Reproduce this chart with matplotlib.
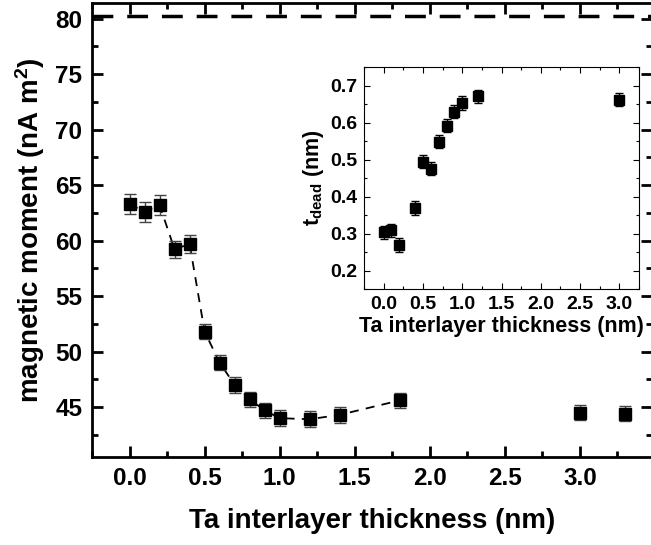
import matplotlib
matplotlib.use("Agg")
import matplotlib.pyplot as plt
from matplotlib.ticker import MultipleLocator

plt.rcParams['font.family'] = ['Liberation Sans', 'DejaVu Sans']
plt.rcParams['font.weight'] = 'bold'
plt.rcParams['mathtext.default'] = 'regular'

# main panel: magnetic moment vs Ta thickness
ta_main = [0.0, 0.1, 0.2, 0.3, 0.4, 0.5, 0.6, 0.7, 0.8, 0.9, 1.0, 1.2, 1.4, 1.8, 3.0, 3.3]
moment = [63.3, 62.6, 63.2, 59.2, 59.7, 51.8, 49.0, 47.0, 45.7, 44.7, 44.0, 43.9, 44.3, 45.6, 44.5, 44.4]
moment_err = [0.9, 0.9, 0.9, 0.8, 0.8, 0.7, 0.7, 0.7, 0.7, 0.7, 0.7, 0.7, 0.7, 0.7, 0.7, 0.7]
n_fit = 14  # dashed guide through the first points only
bulk_moment = 80.2

# inset: dead layer thickness
ta_inset = [0.0, 0.1, 0.2, 0.4, 0.5, 0.6, 0.7, 0.8, 0.9, 1.0, 1.2, 3.0]
t_dead = [0.303, 0.309, 0.269, 0.369, 0.494, 0.475, 0.548, 0.591, 0.629, 0.653, 0.671, 0.662]
t_dead_err = [0.018] * len(t_dead)

fig = plt.figure(figsize=(6.51, 5.45), dpi=100)
ax = fig.add_axes([92/651, 1 - 457/545, 560/651, 454/545])

ax.errorbar(ta_main, moment, yerr=moment_err, fmt='s', color='black', ms=9,
            ecolor='#444444', elinewidth=1, capsize=4, capthick=1, zorder=3)
ax.plot(ta_main[:n_fit], moment[:n_fit], '--', color='black', lw=1.3, dashes=(5, 4), zorder=2)
ax.axhline(bulk_moment, color='black', lw=2.5, dashes=(6, 4))

ax.set_xlim(-0.25, 3.48)
ax.set_ylim(40.5, 81.4)
ax.xaxis.set_major_locator(MultipleLocator(0.5))
ax.xaxis.set_minor_locator(MultipleLocator(0.25))
ax.yaxis.set_major_locator(MultipleLocator(5))
ax.yaxis.set_minor_locator(MultipleLocator(2.5))
ax.tick_params(which='both', direction='in', top=True, right=True, width=2)
ax.tick_params(which='major', length=8, labelsize=17.5, pad=7)
ax.tick_params(which='minor', length=4)
ax.set_xticks([0, 0.5, 1.0, 1.5, 2.0, 2.5, 3.0])
ax.set_xticklabels(['0.0', '0.5', '1.0', '1.5', '2.0', '2.5', '3.0'])
for s in ax.spines.values():
    s.set_linewidth(2)
ax.set_xlabel('Ta interlayer thickness (nm)', fontsize=20, fontweight='bold', labelpad=13)
ax.set_ylabel('magnetic moment (nA m$^2$)', fontsize=20, fontweight='bold', labelpad=6)

# inset
ins = fig.add_axes([364/651, 1 - 289/545, 275/651, 222/545])
ins.errorbar(ta_inset, t_dead, yerr=t_dead_err, fmt='s', color='black', ms=7,
             ecolor='black', elinewidth=1, capsize=3, capthick=1)
ins.set_xlim(-0.25, 3.25)
ins.set_ylim(0.15, 0.75)
ins.xaxis.set_major_locator(MultipleLocator(0.5))
ins.xaxis.set_minor_locator(MultipleLocator(0.25))
ins.yaxis.set_major_locator(MultipleLocator(0.1))
ins.yaxis.set_minor_locator(MultipleLocator(0.05))
ins.tick_params(which='both', direction='in', top=True, right=True, width=0.8)
ins.tick_params(which='major', length=4, labelsize=14, pad=5)
ins.tick_params(which='minor', length=2)
for s in ins.spines.values():
    s.set_linewidth(0.8)
ins.set_xlabel('Ta interlayer thickness (nm)', fontsize=15.5, fontweight='bold', labelpad=2)
ins.set_ylabel('t$_{dead}$ (nm)', fontsize=15.5, fontweight='bold', labelpad=3)

fig.savefig('out.png', dpi=100)
